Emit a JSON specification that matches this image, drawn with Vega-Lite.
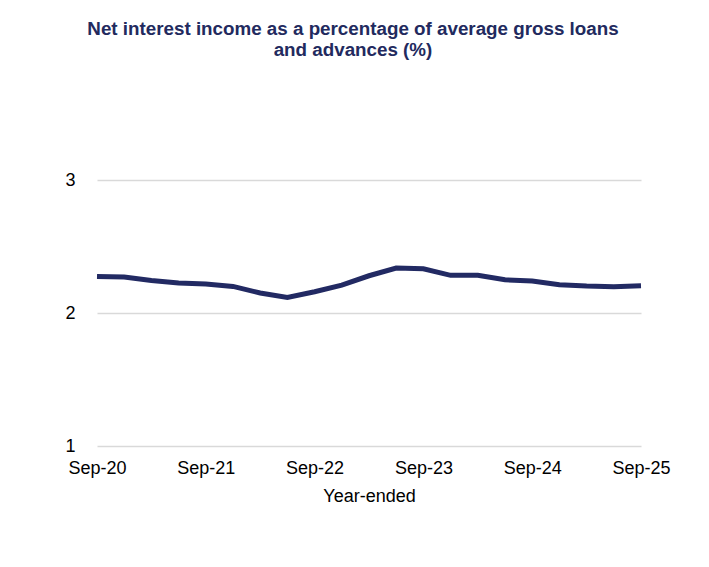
{
  "$schema": "https://vega.github.io/schema/vega-lite/v6.json",
  "autosize": "none",
  "width": 544,
  "height": 266,
  "padding": {"left": 97, "top": 180, "right": 68, "bottom": 121},
  "title": {
    "text": ["Net interest income as a percentage of average gross loans", "and advances (%)"],
    "font": "Liberation Sans",
    "fontSize": 18.8,
    "fontWeight": "bold",
    "color": "#222a5e",
    "anchor": "middle",
    "dx": -16,
    "offset": 111,
    "lineHeight": 21
  },
  "data": {
    "values": [
      {"q": "Sep-20", "v": 2.275},
      {"q": "Dec-20", "v": 2.27},
      {"q": "Mar-21", "v": 2.245},
      {"q": "Jun-21", "v": 2.225},
      {"q": "Sep-21", "v": 2.218},
      {"q": "Dec-21", "v": 2.2},
      {"q": "Mar-22", "v": 2.15},
      {"q": "Jun-22", "v": 2.117},
      {"q": "Sep-22", "v": 2.16},
      {"q": "Dec-22", "v": 2.21},
      {"q": "Mar-23", "v": 2.28},
      {"q": "Jun-23", "v": 2.338},
      {"q": "Sep-23", "v": 2.333},
      {"q": "Dec-23", "v": 2.283},
      {"q": "Mar-24", "v": 2.283},
      {"q": "Jun-24", "v": 2.25},
      {"q": "Sep-24", "v": 2.24},
      {"q": "Dec-24", "v": 2.213},
      {"q": "Mar-25", "v": 2.203},
      {"q": "Jun-25", "v": 2.198},
      {"q": "Sep-25", "v": 2.205}
    ]
  },
  "mark": {"type": "line", "color": "#222a63", "strokeWidth": 5, "strokeCap": "butt"},
  "encoding": {
    "x": {
      "field": "q",
      "type": "ordinal",
      "sort": null,
      "scale": {"type": "point", "padding": 0},
      "axis": {
        "title": "Year-ended",
        "titleFont": "Liberation Sans",
        "titleFontSize": 18,
        "titleFontWeight": "normal",
        "titleColor": "#000000",
        "titlePadding": 10,
        "labelFont": "Liberation Sans",
        "labelFontSize": 18,
        "labelColor": "#000000",
        "labelAngle": 0,
        "labelPadding": 13,
        "labelExpr": "indexof(datum.label, 'Sep') == 0 ? datum.label : ''",
        "labelOverlap": false,
        "ticks": false,
        "domain": false,
        "grid": false
      }
    },
    "y": {
      "field": "v",
      "type": "quantitative",
      "scale": {"domain": [1, 3], "nice": false, "zero": false},
      "axis": {
        "title": null,
        "values": [1, 2, 3],
        "labelExpr": "format(datum.value, '.0f')",
        "labelOverlap": false,
        "labelFont": "Liberation Sans",
        "labelFontSize": 18,
        "labelColor": "#000000",
        "labelPadding": 22,
        "ticks": false,
        "domain": false,
        "grid": true,
        "gridColor": "#d9d9d9",
        "gridWidth": 1.5
      }
    }
  },
  "config": {"view": {"stroke": null}, "background": "#ffffff"}
}
